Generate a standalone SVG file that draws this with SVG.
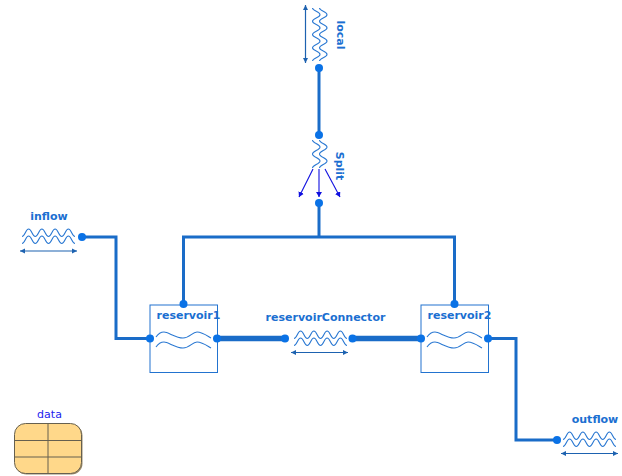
<svg xmlns="http://www.w3.org/2000/svg" xmlns:xlink="http://www.w3.org/1999/xlink" width="622" height="476" viewBox="0 0 622 476">
<style>
text{font-family:"DejaVu Sans",Verdana,sans-serif;font-size:11px;font-weight:bold;fill:#1b6fd1;text-anchor:middle}
.wire{fill:none;stroke:#1a6cc8;stroke-width:3}
.thick{fill:none;stroke:#1a6cc8;stroke-width:5.5}
.wave{fill:none;stroke:#2a78d2;stroke-width:1.1}
.dim{fill:none;stroke:#1d62b0;stroke-width:1.2;marker-start:url(#dimS);marker-end:url(#dimE)}
.dot{fill:#0a72e6}
.box{fill:#fff;stroke:#2273cf;stroke-width:1}
.flow{fill:none;stroke:#1010e0;stroke-width:1.1;marker-end:url(#flowE)}
</style>
<defs>
<marker id="dimE" markerUnits="userSpaceOnUse" markerWidth="6" markerHeight="6" refX="5" refY="3" orient="auto"><path d="M0 .5L5 3L0 5.500z" fill="#1d62b0"/></marker>
<marker id="dimS" markerUnits="userSpaceOnUse" markerWidth="6" markerHeight="6" refX="0" refY="3" orient="auto"><path d="M5 .5L0 3L5 5.500z" fill="#1d62b0"/></marker>
<marker id="flowE" markerUnits="userSpaceOnUse" markerWidth="6" markerHeight="6" refX="5" refY="3" orient="auto"><path d="M0 0L5 3L0 6z" fill="#1010e0"/></marker>
<path id="hw" d="M0 7.500C3 7.500 3.600 0 6.625 0S10.250 7.500 13.250 7.500S16.900 0 19.875 0S23.500 7.500 26.500 7.500S30.150 0 33.125 0S36.750 7.500 39.750 7.500S43.400 0 46.375 0S50 7.500 53 7.500" class="wave"/>
<path id="sw" d="M0 7.500C3 7.500 4 0 7 0S11 7.500 14 7.500S18 0 21 0S25 7.500 28 7.500" class="wave"/>
<path id="rw" d="M0 5C2 2 4 0 8 0S20 6 27 6S36 0 41 0S50 3 55 6" class="wave"/>
</defs>
<g id="connectors">
<path class="wire" d="M319 68V135"/>
<path class="wire" d="M319 203V237"/>
<path class="wire" d="M183.500 304V237H454.500V304"/>
<path class="wire" d="M82 237H116V338.500H150"/>
<path class="wire" d="M488 338.500H516V440H557"/>
<path class="thick" d="M217 338.500H285"/>
<path class="thick" d="M352 338.500H421"/>
</g>
<g id="local">
<path class="dim" d="M305.500 5V63"/>
<use xlink:href="#hw" transform="translate(327 8) rotate(90)"/>
<use xlink:href="#hw" transform="translate(320 8) rotate(90)"/>
<circle class="dot" cx="319" cy="68" r="4"/>
<text transform="translate(337 35) rotate(90)">local</text>
</g>
<g id="Split">
<circle class="dot" cx="319" cy="135" r="4"/>
<use xlink:href="#sw" transform="translate(327 140) rotate(90)"/>
<use xlink:href="#sw" transform="translate(320 140) rotate(90)"/>
<path class="flow" d="M313 169L299 197"/>
<path class="flow" d="M319 169V197"/>
<path class="flow" d="M325 169L340 197"/>
<circle class="dot" cx="319" cy="203" r="4"/>
<text transform="translate(336 166) rotate(90)">Split</text>
</g>
<g id="inflow">
<text x="49" y="220">inflow</text>
<use xlink:href="#hw" x="22" y="229"/>
<use xlink:href="#hw" x="22" y="236"/>
<path class="dim" d="M20 251H77"/>
<circle class="dot" cx="82" cy="237" r="4"/>
</g>
<g id="reservoir1">
<rect class="box" x="150" y="305" width="67.500" height="67.500"/>
<use xlink:href="#rw" x="156" y="332"/>
<use xlink:href="#rw" x="156" y="342"/>
<text x="188.500" y="319">reservoir1</text>
<circle class="dot" cx="183.500" cy="304" r="4"/>
<circle class="dot" cx="150" cy="338.500" r="4"/>
<circle class="dot" cx="217" cy="338.500" r="4"/>
</g>
<g id="reservoirConnector">
<text x="325.500" y="321">reservoirConnector</text>
<use xlink:href="#hw" x="294" y="331"/>
<use xlink:href="#hw" x="294" y="338"/>
<path class="dim" d="M291 352.500H348"/>
<circle class="dot" cx="285" cy="338.500" r="4"/>
<circle class="dot" cx="352.500" cy="338.500" r="4"/>
</g>
<g id="reservoir2">
<rect class="box" x="421" y="305" width="67.500" height="67.500"/>
<use xlink:href="#rw" x="427" y="332"/>
<use xlink:href="#rw" x="427" y="342"/>
<text x="459.500" y="319">reservoir2</text>
<circle class="dot" cx="454.500" cy="304" r="4"/>
<circle class="dot" cx="421" cy="338.500" r="4"/>
<circle class="dot" cx="488" cy="338.500" r="4"/>
</g>
<g id="outflow">
<text x="595" y="423">outflow</text>
<use xlink:href="#hw" x="563" y="432"/>
<use xlink:href="#hw" x="563" y="439"/>
<path class="dim" d="M561 453.500H618"/>
<circle class="dot" cx="557" cy="440" r="4"/>
</g>
<g id="data">
<text x="49.500" y="418" style="font-weight:normal;fill:#2222ee">data</text>
<rect x="15.500" y="424.500" width="67" height="50" rx="11" fill="#9a8a6a"/>
<rect x="14.500" y="423.500" width="67" height="50" rx="11" fill="#ffd88a" stroke="#66604f" stroke-width="1"/>
<path d="M48 423.500V473.500M14.500 440.500H81.500M14.500 457H81.500" fill="none" stroke="#66604f" stroke-width="1"/>
</g>
</svg>
